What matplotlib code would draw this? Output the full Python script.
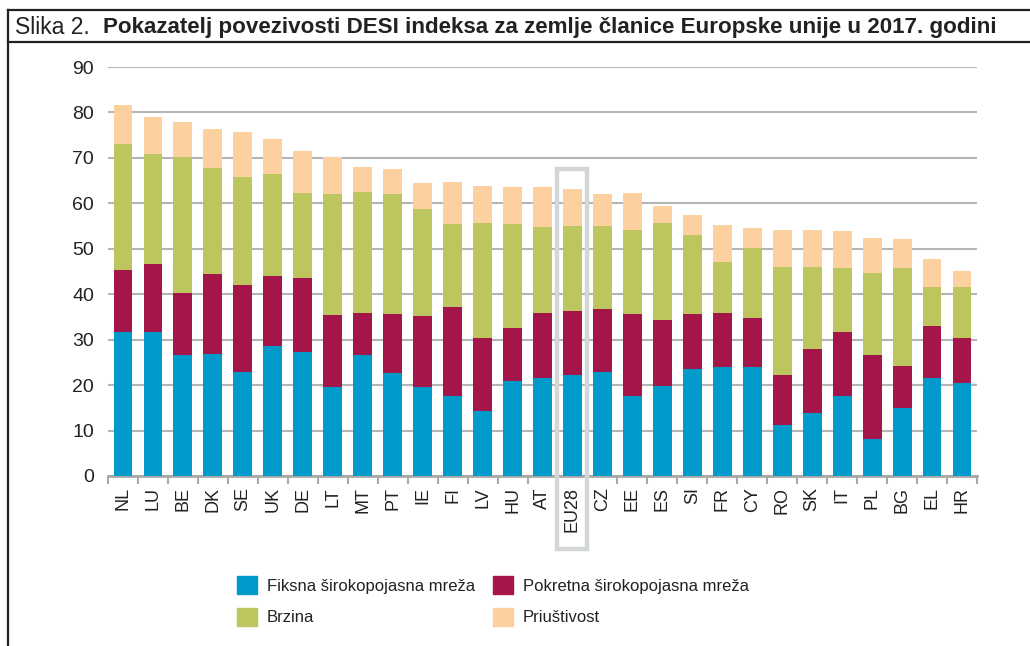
import matplotlib
matplotlib.use("Agg")
import matplotlib.pyplot as plt
from matplotlib.patches import Rectangle, Patch
from matplotlib.lines import Line2D
import numpy as np

countries = ["NL", "LU", "BE", "DK", "SE", "UK", "DE", "LT", "MT", "PT", "IE", "FI", "LV", "HU", "AT",
             "EU28", "CZ", "EE", "ES", "SI", "FR", "CY", "RO", "SK", "IT", "PL", "BG", "EL", "HR"]
fiksna = [31.7, 31.7, 26.6, 26.8, 22.9, 28.6, 27.3, 19.5, 26.6, 22.6, 19.5, 17.6, 14.3, 20.8, 21.5,
          22.2, 22.9, 17.7, 19.8, 23.5, 24.0, 24.0, 11.2, 13.8, 17.6, 8.1, 14.9, 21.5, 20.4]
pokretna = [13.6, 15.0, 13.7, 17.6, 19.1, 15.4, 16.3, 15.9, 9.3, 13.0, 15.7, 19.6, 16.0, 11.7, 14.4,
            14.1, 13.8, 17.9, 14.5, 12.1, 11.9, 10.7, 11.0, 14.1, 14.1, 18.5, 9.3, 11.5, 9.9]
brzina = [27.8, 24.2, 29.9, 23.4, 23.8, 22.5, 18.7, 26.7, 26.6, 26.5, 23.6, 18.2, 25.4, 22.9, 18.9,
          18.7, 18.3, 18.5, 21.4, 17.4, 11.2, 15.5, 23.8, 18.1, 14.0, 18.0, 21.5, 8.6, 11.3]
priustivost = [8.6, 8.1, 7.7, 8.6, 9.9, 7.7, 9.3, 8.1, 5.5, 5.4, 5.7, 9.3, 8.1, 8.2, 8.8,
               8.2, 7.1, 8.2, 3.8, 4.5, 8.2, 4.4, 8.1, 8.1, 8.2, 7.7, 6.4, 6.1, 3.5]
series_names = ["Fiksna širokopojasna mreža", "Pokretna širokopojasna mreža", "Brzina", "Priuštivost"]
colors = ["#009BCB", "#A4154A", "#BDC65E", "#FDD09F"]
highlight = "EU28"

plt.rcParams['font.family'] = ['Liberation Sans', 'DejaVu Sans']

W, H = 1030, 646
fig = plt.figure(figsize=(W / 100, H / 100), dpi=100)

# frame
fig.add_artist(Line2D([8 / W, 8 / W], [0, 1 - 10 / H], transform=fig.transFigure, color="#222222", lw=1.6))
fig.add_artist(Line2D([8 / W, 1], [1 - 10 / H, 1 - 10 / H], transform=fig.transFigure, color="#222222", lw=1.6))
fig.add_artist(Line2D([8 / W, 1], [1 - 42 / H, 1 - 42 / H], transform=fig.transFigure, color="#222222", lw=1.6))

# title
fig.text(15 / W, 1 - 27 / H, "Slika 2.", fontsize=16.5, va="center", ha="left",
         family=['Liberation Sans', 'DejaVu Sans'], color="#222222")
fig.text(103 / W, 1 - 27 / H, "Pokazatelj povezivosti DESI indeksa za zemlje članice Europske unije u 2017. godini",
         fontsize=16.1, fontweight="bold", va="center", ha="left",
         family=['Liberation Sans', 'DejaVu Sans'], color="#222222")

ax = fig.add_axes([108 / W, (H - 476) / H, (977 - 108) / W, (476 - 67) / H])
x = np.arange(len(countries))
bottom = np.zeros(len(countries))
for vals, name, c in zip([fiksna, pokretna, brzina, priustivost], series_names, colors):
    ax.bar(x, vals, 0.63, bottom=bottom, color=c, label=name, zorder=3)
    bottom += np.array(vals)

ax.set_xlim(-0.5, len(countries) - 0.5)
ax.set_ylim(0, 90)
ax.set_yticks(np.arange(0, 91, 10))
ax.yaxis.grid(True, color="#b5b5b5", lw=1.5, zorder=0)
for s in ["top", "right", "left"]:
    ax.spines[s].set_visible(False)
ax.spines["bottom"].set_color("#a8a8a8")
ax.spines["bottom"].set_linewidth(2)
ax.tick_params(axis="y", length=0, labelsize=14, labelcolor="#222222", pad=10)
ax.set_xticks(x)
ax.set_xticklabels(countries, rotation=90, fontsize=13, color="#222222")
ax.tick_params(axis="x", which="major", length=0, pad=8)
ax.set_xticks(np.arange(-0.5, len(countries)), minor=True)
ax.tick_params(axis="x", which="minor", length=6, width=1.5, color="#a8a8a8")

# highlight box around EU28
i = countries.index(highlight)
xc = ax.transData.transform((i, 0))[0]
x0 = xc - 15.0
x1 = xc + 15.0
fig.add_artist(Rectangle((x0 / W, (H - 548.5) / H), (x1 - x0) / W, (548.5 - 168.5) / H,
                         transform=fig.transFigure, fill=False, ec="#d3d6d6", lw=3.2, zorder=5))

handles = [Patch(color=c) for c in colors]
order = [0, 2, 1, 3]
fig.legend([handles[k] for k in order], [series_names[k] for k in order], ncol=2,
           loc="upper left", bbox_to_anchor=(222 / W, 1 - 561 / H), frameon=False,
           fontsize=12, handlelength=1.2, handleheight=1.3, handletextpad=0.6,
           columnspacing=1.05, labelspacing=0.8, labelcolor="#222222")

fig.savefig("out.png", dpi=100)
